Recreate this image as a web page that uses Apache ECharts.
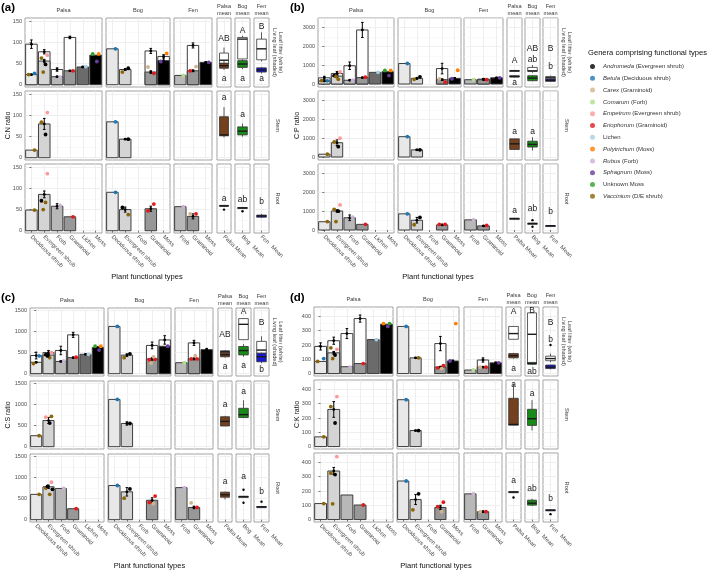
<!DOCTYPE html>
<html>
<head>
<meta charset="utf-8">
<script src="https://cdn.jsdelivr.net/npm/echarts@6/dist/echarts.min.js"></script>
<style>
html, body { margin: 0; padding: 0; background: #fff; }
#chart { width: 709px; height: 574px; }
</style>
</head>
<body>
<div id="chart"></div>
<script>
var FONT = '"Liberation Sans", Arial, sans-serif';

var genera = ['Andromeda', 'Betula', 'Carex', 'Comarum', 'Empetrum', 'Eriophorum', 'Lichen', 'Polytrichum', 'Rubus', 'Sphagnum', 'Unknown Moss', 'Vaccinium'];
var generaGroup = ['Evergreen shrub', 'Deciduous shrub', 'Graminoid', 'Forb', 'Evergreen shrub', 'Graminoid', '', 'Moss', 'Forb', 'Moss', '', 'D/E shrub'];
var generaColors = ['#000000', '#1f78b4', '#d2b48c', '#b2df8a', '#fb9a99', '#e31a1c', '#a6cee3', '#ff7f00', '#cab2d6', '#6a3d9a', '#33a02c', '#8b6508'];

var sites = ['Palsa', 'Bog', 'Fen'];
var palsaTypes = ['Deciduous shrub', 'Evergreen shrub', 'Forb', 'Graminoid', 'Lichen', 'Moss'];
var bogTypes = ['Deciduous shrub', 'Evergreen shrub', 'Forb', 'Graminoid', 'Moss'];
var fenTypes = ['Forb', 'Graminoid', 'Moss'];
var meanLabels = ['Palsa Mean', 'Bog   Mean', 'Fen   Mean'];
var meanStrips = ['Palsa\nmean', 'Bog\nmean', 'Fen\nmean'];
var rowStrips = ['Leaf litter (white)\nLiving leaf (shaded)', 'Stem', 'Root'];

// ---- C:N ratio (a) ---- values are [mean, se]
var cnLitter = {Palsa: [[96, 10], [78, 5], [36, 4], [112, 3], null, null], Bog: [null, null, null, [80, 6], [67, 4]], Fen: [null, [93, 6], null]};
var cnLeaf = {Palsa: [[24, 1], [56, 4], [19, 1], [33, 1], [42, 1], [70, 0]], Bog: [[85, 0], [36, 2], null, [30, 3], [57, 9]], Fen: [[22, 0], [33, 2], [53, 1]]};
var cnStem = {Palsa: [[18, 0], [80, 13], null, null, null, null], Bog: [[85, 0], [44, 1], null, null, null], Fen: [null, null, null]};
var cnRoot = {Palsa: [[49, 0], [86, 8], [58, 6], [33, 0], null, null], Bog: [[91, 0], [50, 6], null, [52, 6], null], Fen: [[57, 0], [34, 6], null]};
// points: [type index, value, genus index]
var cnLeafPts = {Palsa: [[0, 27, 1], [0, 24, 11], [1, 70, 4], [1, 63, 11], [1, 48, 0], [1, 30, 11], [2, 18, 8], [3, 33, 5], [4, 43, 6], [5, 73, 7], [5, 73, 10], [5, 55, 9]],
  Bog: [[0, 85, 1], [1, 39, 0], [1, 30, 11], [3, 27, 5], [3, 42, 2], [4, 74, 7], [4, 55, 9]],
  Fen: [[0, 22, 3], [1, 43, 2], [1, 33, 5], [2, 53, 9]]};
var cnStemPts = {Palsa: [[0, 18, 11], [1, 107, 4], [1, 84, 11], [1, 55, 0]], Bog: [[0, 85, 1], [1, 44, 0]], Fen: []};
var cnRootPts = {Palsa: [[0, 49, 11], [1, 135, 4], [1, 71, 0], [1, 67, 11], [1, 50, 11], [2, 60, 8], [3, 33, 5]],
  Bog: [[0, 91, 1], [1, 38, 11], [1, 55, 0], [3, 63, 5], [3, 47, 5]], Fen: [[0, 57, 8], [1, 40, 5], [1, 40, 2]]};
// boxes: [min, q1, median, q3, max, outliers]
var cnLeafBox = {Palsa: [[40, 50, 58, 75, 88], [35, 39, 45, 51, 56]], Bog: [[61, 61, 108, 112, 116], [37, 41, 49, 57, 60]], Fen: [[55, 59, 85, 108, 124], [27, 30, 35, 40, 42]]};
var cnStemBox = {Palsa: [48, 52, 54, 97, 120], Bog: [50, 54, 63, 73, 81], Fen: null};
var cnRootBox = {Palsa: [58, 59, 59, 60, 61, [50]], Bog: [52, 53, 54, 55, 56, [46]], Fen: [30, 32, 35, 37, 40]};
var cnLetters = {leaf: {Palsa: [['AB', 110], ['a', 15]], Bog: [['A', 128], ['a', 15]], Fen: [['B', 138], ['a', 15]]},
  stem: {Palsa: [['a', 143]], Bog: [['a', 103]], Fen: []}, root: {Palsa: [['a', 77]], Bog: [['ab', 73]], Fen: [['b', 68]]}};
var cnTicks = [0, 50, 100, 150];
var cnMinor = [25, 75, 125];

// ---- C:P ratio (b) ----
var cpLitter = {Palsa: [[330, 80], [560, 100], [970, 200], [2870, 400], null, null], Bog: [null, null, null, [820, 280], null], Fen: [null, [260, 30], null]};
var cpLeaf = {Palsa: [[160, 30], [420, 80], [200, 10], [340, 20], [620, 0], [650, 0]], Bog: [[1090, 0], [300, 50], null, [230, 40], [300, 30]], Fen: [[230, 0], [230, 20], [330, 30]]};
var cpStem = {Palsa: [[150, 0], [760, 150], null, null, null, null], Bog: [[1080, 0], [380, 30], null, null, null], Fen: [null, null, null]};
var cpRoot = {Palsa: [[440, 0], [1010, 60], [650, 150], [300, 0], null, null], Bog: [[860, 0], [520, 150], null, [270, 30], null], Fen: [[540, 0], [220, 20], null]};
var cpLeafPts = {Palsa: [[0, 170, 1], [0, 180, 11], [1, 650, 4], [1, 450, 0], [1, 250, 11], [1, 400, 11], [2, 200, 8], [3, 360, 5], [4, 620, 6], [5, 720, 7], [5, 720, 10], [5, 450, 9]],
  Bog: [[0, 1090, 1], [1, 380, 0], [1, 250, 11], [3, 100, 5], [3, 270, 2], [4, 730, 7], [4, 280, 9]],
  Fen: [[0, 230, 3], [1, 230, 5], [2, 330, 9]]};
var cpStemPts = {Palsa: [[0, 150, 11], [1, 1000, 4], [1, 800, 11], [1, 550, 0]], Bog: [[0, 1080, 1], [1, 380, 0]], Fen: []};
var cpRootPts = {Palsa: [[0, 450, 11], [1, 1330, 4], [1, 1100, 11], [1, 1000, 0], [1, 450, 11], [2, 680, 8], [3, 300, 5]],
  Bog: [[0, 860, 1], [1, 670, 0], [1, 280, 11], [3, 300, 5], [3, 300, 5]], Fen: [[0, 540, 8], [1, 240, 5]]};
var cpLeafBox = {Palsa: [[660, 680, 700, 720, 740], [350, 370, 400, 440, 470]], Bog: [[600, 670, 700, 880, 1000], [150, 175, 315, 440, 480]], Fen: [[230, 260, 330, 400, 450], [120, 140, 200, 260, 280]]};
var cpStemBox = {Palsa: [400, 400, 700, 965, 965], Bog: [350, 530, 670, 840, 1050], Fen: null};
var cpRootBox = {Palsa: [580, 600, 610, 620, 640], Bog: [340, 345, 350, 355, 360, [525, 175]], Fen: [215, 222, 230, 238, 245]};
var cpLetters = {leaf: {Palsa: [['A', 1250], ['a', 90]], Bog: [['AB', 1880], ['ab', 1280]], Fen: [['B', 1880], ['b', 930]]},
  stem: {Palsa: [['a', 1330]], Bog: [['a', 1370]], Fen: []}, root: {Palsa: [['a', 1050]], Bog: [['ab', 1140]], Fen: [['b', 960]]}};
var cpTicks = [0, 1000, 2000, 3000];
var cpMinor = [500, 1500, 2500, 3500];

// ---- C:S ratio (c) ----
var csLitter = {Palsa: [[430, 80], [500, 50], [550, 100], [920, 60], null, null], Bog: [null, null, null, [670, 80], [800, 100]], Fen: [null, [730, 60], null]};
var csLeaf = {Palsa: [[270, 10], [440, 40], [290, 10], [380, 10], [460, 10], [620, 10]], Bog: [[1120, 0], [440, 30], null, [350, 30], [650, 0]], Fen: [[260, 0], [350, 20], [570, 30]]};
var csStem = {Palsa: [[260, 0], [620, 70], null, null, null, null], Bog: [[1120, 0], [550, 40], null, null, null], Fen: [null, null, null]};
var csRoot = {Palsa: [[600, 0], [780, 40], [740, 0], [260, 0], null, null], Bog: [[810, 0], [660, 100], null, [460, 60], null], Fen: [[760, 0], [290, 30], null]};
var csLeafPts = {Palsa: [[0, 420, 1], [0, 240, 11], [1, 500, 4], [1, 450, 0], [1, 380, 11], [1, 420, 0], [2, 300, 8], [3, 390, 5], [4, 460, 6], [5, 650, 7], [5, 650, 10], [5, 560, 9]],
  Bog: [[0, 1120, 1], [1, 470, 0], [1, 380, 11], [3, 340, 5], [3, 330, 5], [3, 400, 2], [3, 250, 2], [4, 650, 9]],
  Fen: [[0, 260, 3], [1, 350, 5], [1, 350, 5], [1, 430, 2]]};
var csStemPts = {Palsa: [[0, 260, 11], [1, 720, 11], [1, 700, 4], [1, 560, 0]], Bog: [[0, 1120, 1], [1, 550, 0]], Fen: []};
var csRootPts = {Palsa: [[0, 600, 11], [1, 890, 4], [1, 750, 11], [1, 600, 11], [1, 790, 0], [1, 720, 0], [2, 740, 8], [3, 260, 5]],
  Bog: [[0, 810, 1], [1, 730, 0], [1, 510, 11], [3, 560, 5], [3, 410, 5], [3, 380, 2]], Fen: [[0, 760, 8], [1, 290, 5], [1, 400, 2]]};
var csLeafBox = {Palsa: [[470, 490, 520, 545, 560], [380, 400, 450, 500, 520]], Bog: [[806, 806, 1170, 1306, 1306], [400, 444, 548, 645, 700]], Fen: [[403, 484, 560, 766, 887], [250, 282, 403, 484, 500]]};
var csStemBox = {Palsa: [490, 490, 600, 710, 730], Bog: [690, 690, 760, 910, 1100], Fen: null};
var csRootBox = {Palsa: [480, 532, 590, 653, 660], Bog: [540, 545, 548, 552, 556, [710, 403]], Fen: [300, 303, 306, 309, 312, [427]]};
var csLetters = {leaf: {Palsa: [['AB', 920], ['a', 160]], Bog: [['A', 1480], ['a', 200]], Fen: [['B', 1210], ['b', 97]]},
  stem: {Palsa: [['a', 990]], Bog: [['a', 1315]], Fen: []}, root: {Palsa: [['a', 910]], Bog: [['a', 1030]], Fen: [['b', 670]]}};
var csTicks = [0, 500, 1000, 1500];
var csMinor = [250, 750, 1250];

// ---- C:K ratio (d) ----
var ckLitter = {Palsa: [[190, 25], [230, 25], [280, 35], [385, 25], null, null], Bog: [null, null, null, [210, 50], null], Fen: [null, [95, 15], null]};
var ckLeaf = {Palsa: [[85, 0], [145, 10], [48, 0], [70, 0], [238, 0], [345, 0]], Bog: [[330, 0], [110, 3], null, [45, 5], [88, 5]], Fen: [[25, 0], [45, 3], [75, 5]]};
var ckStem = {Palsa: [[68, 0], [260, 55], null, null, null, null], Bog: [[328, 0], [112, 3], null, null, null], Fen: [null, null, null]};
var ckRoot = {Palsa: [[112, 0], [340, 25], [172, 0], [102, 0], null, null], Bog: [[270, 0], [140, 35], null, [85, 15], null], Fen: [[180, 0], [55, 5], null]};
var ckLeafPts = {Palsa: [[0, 105, 1], [0, 85, 11], [1, 170, 4], [1, 180, 11], [1, 130, 0], [1, 105, 11], [2, 45, 8], [3, 70, 5], [4, 238, 6], [5, 350, 10], [5, 350, 7], [5, 330, 9]],
  Bog: [[0, 330, 1], [1, 110, 11], [3, 55, 5], [3, 40, 5], [3, 35, 2], [4, 350, 7], [4, 88, 9]],
  Fen: [[0, 25, 3], [1, 45, 5], [1, 45, 2], [2, 75, 9]]};
var ckStemPts = {Palsa: [[0, 68, 11], [1, 350, 4], [1, 280, 11], [1, 165, 0]], Bog: [[0, 328, 1], [1, 112, 0]], Fen: []};
var ckRootPts = {Palsa: [[0, 112, 11], [1, 440, 4], [1, 325, 11], [1, 315, 0], [1, 110, 11], [3, 102, 5]],
  Bog: [[0, 270, 1], [1, 180, 0], [1, 68, 11], [3, 122, 5], [3, 90, 5], [3, 55, 2]], Fen: [[0, 180, 8], [1, 55, 5], [1, 55, 2]]};
var ckLeafBox = {Palsa: [[240, 240, 280, 330, 330], [105, 110, 125, 140, 145]], Bog: [[70, 70, 275, 425, 425], [64, 66, 70, 78, 80]], Fen: [[80, 90, 105, 122, 140, [200]], [30, 35, 45, 60, 62]]};
var ckStemBox = {Palsa: [150, 150, 155, 338, 440], Bog: [113, 148, 195, 261, 325], Fen: null};
var ckRootBox = {Palsa: [188, 190, 193, 195, 198, [155]], Bog: [95, 101, 115, 136, 145], Fen: [62, 64, 66, 68, 70, [38]]};
var ckLetters = {leaf: {Palsa: [['A', 430], ['a', 35]], Bog: [['B', 440], ['ab', 12]], Fen: [['B', 358], ['b', 240]]},
  stem: {Palsa: [['a', 430]], Bog: [['a', 372]], Fen: []}, root: {Palsa: [['a', 273]], Bog: [['ab', 214]], Fen: [['b', 143]]}};
var ckTicks = [0, 100, 200, 300, 400];
var ckMinor = [50, 150, 250, 350, 450];

// styles
var typeFill = {'Deciduous shrub': '#e8e8e8', 'Evergreen shrub': '#d4d4d4', 'Forb': '#b8b8b8', 'Graminoid': '#989898', 'Lichen': '#6b6b6b', 'Moss': '#000000'};
var meanFill = {Palsa: '#74401e', Bog: '#178a17', Fen: '#1818d0'};
var jitter = [0.24, -0.22, 0.1, -0.08, 0.32, -0.3];
var siteTypes = {Palsa: palsaTypes, Bog: bogTypes, Fen: fenTypes};

var panels = [
  {tag: '(a)', yTitle: 'C:N ratio', litter: cnLitter, rowsData: [cnLeaf, cnStem, cnRoot], pts: [cnLeafPts, cnStemPts, cnRootPts], boxes: [cnLeafBox, cnStemBox, cnRootBox], letters: cnLetters, range: [-5.4, 158], ticks: cnTicks, minor: cnMinor,
    cols: [[25, 102], [106, 170], [174, 212], [217, 231], [235, 250], [254, 269]], rows: [[18, 87], [91, 160], [164, 233]], x0: 0, y0: 0},
  {tag: '(b)', yTitle: 'C:P ratio', litter: cpLitter, rowsData: [cpLeaf, cpStem, cpRoot], pts: [cpLeafPts, cpStemPts, cpRootPts], boxes: [cpLeafBox, cpStemBox, cpRootBox], letters: cpLetters, range: [-158, 3505], ticks: cpTicks, minor: cpMinor,
    cols: [[318, 394], [398, 461], [464, 503], [507, 522], [525, 540], [543, 558]], rows: [[18, 87], [91, 160], [164, 233]], x0: 289, y0: 0},
  {tag: '(c)', yTitle: 'C:S ratio', litter: csLitter, rowsData: [csLeaf, csStem, csRoot], pts: [csLeafPts, csStemPts, csRootPts], boxes: [csLeafBox, csStemBox, csRootBox], letters: csLetters, range: [-55, 1557], ticks: csTicks, minor: csMinor,
    cols: [[30, 104], [108, 171], [175, 213], [218, 232], [236, 251], [254, 269]], rows: [[308, 376], [381, 449], [454, 522]], x0: 0, y0: 290},
  {tag: '(d)', yTitle: 'C:K ratio', litter: ckLitter, rowsData: [ckLeaf, ckStem, ckRoot], pts: [ckLeafPts, ckStemPts, ckRootPts], boxes: [ckLeafBox, ckStemBox, ckRootBox], letters: ckLetters, range: [-17, 466], ticks: ckTicks, minor: ckMinor,
    cols: [[314, 393], [397, 459], [464, 502], [506, 521], [525, 539], [543, 558]], rows: [[307, 376], [380, 449], [453, 522]], x0: 289, y0: 290}
];

function drawBar(it, api) {
  var tl = api.coord([it.x - 0.45, it.v]);
  var br = api.coord([it.x + 0.45, 0]);
  var ch = [{type: 'rect', shape: {x: tl[0], y: tl[1], width: br[0] - tl[0], height: br[1] - tl[1]},
    style: {fill: it.fill, stroke: '#3d3d3d', lineWidth: 1}}];
  if (it.se > 0) {
    var lo = api.coord([it.x, it.v - it.se]), hi = api.coord([it.x, it.v + it.se]);
    var cw = 1.3;
    ch.push({type: 'line', shape: {x1: lo[0], y1: lo[1], x2: hi[0], y2: hi[1]}, style: {stroke: '#000', lineWidth: 1}});
    ch.push({type: 'line', shape: {x1: lo[0] - cw, y1: lo[1], x2: lo[0] + cw, y2: lo[1]}, style: {stroke: '#000', lineWidth: 1}});
    ch.push({type: 'line', shape: {x1: hi[0] - cw, y1: hi[1], x2: hi[0] + cw, y2: hi[1]}, style: {stroke: '#000', lineWidth: 1}});
    var m = api.coord([it.x, it.v]);
    ch.push({type: 'circle', shape: {cx: m[0], cy: m[1], r: 1.4}, style: {fill: '#000'}});
  }
  return {type: 'group', children: ch};
}

function drawBox(it, api) {
  var s = it.stats;
  var tl = api.coord([-0.32, s[3]]), br = api.coord([0.32, s[1]]);
  var wt = api.coord([0, s[4]]), wb = api.coord([0, s[0]]);
  var m1 = api.coord([-0.32, s[2]]), m2 = api.coord([0.32, s[2]]);
  var ch = [
    {type: 'line', shape: {x1: wt[0], y1: wt[1], x2: wt[0], y2: tl[1]}, style: {stroke: '#333', lineWidth: 0.8}},
    {type: 'line', shape: {x1: wb[0], y1: br[1], x2: wb[0], y2: wb[1]}, style: {stroke: '#333', lineWidth: 0.8}},
    {type: 'rect', shape: {x: tl[0], y: tl[1], width: br[0] - tl[0], height: Math.max(br[1] - tl[1], 1)}, style: {fill: it.fill, stroke: '#333', lineWidth: 0.8}},
    {type: 'line', shape: {x1: m1[0], y1: m1[1], x2: m2[0], y2: m2[1]}, style: {stroke: '#1a1a1a', lineWidth: 1.4}}
  ];
  (s[5] || []).forEach(function (o) {
    var c = api.coord([0, o]);
    ch.push({type: 'circle', shape: {cx: c[0], cy: c[1], r: 1.2}, style: {fill: '#000'}});
  });
  return {type: 'group', children: ch};
}

function makeRender(items) {
  return function (params, api) {
    var it = items[params.dataIndex];
    if (it.kind === 'bar') return drawBar(it, api);
    if (it.kind === 'box') return drawBox(it, api);
    var c = api.coord([it.x, it.v]);
    if (it.kind === 'pt') return {type: 'circle', shape: {cx: c[0], cy: c[1], r: 1.9}, style: {fill: it.color}};
    return {type: 'text', x: c[0], y: c[1], style: {text: it.text, font: '8.5px ' + FONT, fill: '#222', align: 'center', verticalAlign: 'middle'}};
  };
}

var grids = [], xAxes = [], yAxes = [], series = [], texts = [];

function addCell(p, r, c) {
  var gi = grids.length;
  var col = p.cols[c], row = p.rows[r];
  var isMean = c >= 3;
  var names = isMean ? [meanLabels[c - 3]] : siteTypes[sites[c]];
  var idx = names.map(function (_, i) { return i; });
  var bottom = r === 2;
  grids.push({left: col[0], top: row[0], width: col[1] - col[0], height: row[1] - row[0], show: true,
    backgroundColor: '#fff', borderColor: '#a3a3a3', borderWidth: 1, outerBoundsMode: 'none', containLabel: false});
  xAxes.push({gridIndex: gi, type: 'value', min: -0.5, max: names.length - 0.5, axisLine: {show: false},
    axisTick: {show: bottom, length: 2, customValues: idx, lineStyle: {color: '#555', width: 0.8}},
    axisLabel: {show: bottom, customValues: idx, rotate: -45, margin: 3, fontSize: 5.8, color: '#4d4d4d', fontFamily: FONT,
      formatter: function (v) { return names[Math.round(v)]; }},
    splitLine: {show: true, lineStyle: {color: '#ebebeb', width: 0.8}}});
  yAxes.push({gridIndex: gi, type: 'value', min: p.range[0], max: p.range[1], axisLine: {show: false},
    axisTick: {show: c === 0, length: 2, customValues: p.ticks, lineStyle: {color: '#555', width: 0.8}},
    axisLabel: {show: c === 0, customValues: p.ticks, margin: 3, fontSize: 5.5, color: '#4d4d4d', fontFamily: FONT,
      formatter: function (v) { return String(v); }},
    splitLine: {show: true, lineStyle: {color: '#ebebeb', width: 0.8}}});
  yAxes.push({gridIndex: gi, type: 'value', min: p.range[0], max: p.range[1], axisLine: {show: false},
    axisTick: {show: false, customValues: p.minor}, axisLabel: {show: false, customValues: p.minor},
    splitLine: {show: true, lineStyle: {color: '#f4f4f4', width: 0.5}}});

  var items = [];
  if (!isMean) {
    var site = sites[c];
    var types = siteTypes[site];
    if (r === 0) {
      p.litter[site].forEach(function (d, i) { if (d) items.push({kind: 'bar', x: i, v: d[0], se: d[1], fill: '#ffffff'}); });
    }
    p.rowsData[r][site].forEach(function (d, i) { if (d) items.push({kind: 'bar', x: i, v: d[0], se: d[1], fill: typeFill[types[i]]}); });
    var counts = {};
    p.pts[r][site].forEach(function (d) {
      var k = counts[d[0]] || 0;
      counts[d[0]] = k + 1;
      items.push({kind: 'pt', x: d[0] + jitter[k % jitter.length], v: d[1], color: generaColors[d[2]]});
    });
  } else {
    var ms = sites[c - 3];
    var box = p.boxes[r][ms];
    if (box && r === 0) {
      items.push({kind: 'box', x: 0, v: box[0][2], stats: box[0], fill: '#ffffff'});
      items.push({kind: 'box', x: 0, v: box[1][2], stats: box[1], fill: meanFill[ms]});
    } else if (box) {
      items.push({kind: 'box', x: 0, v: box[2], stats: box, fill: meanFill[ms]});
    }
    p.letters[['leaf', 'stem', 'root'][r]][ms].forEach(function (l) { items.push({kind: 'txt', x: 0, v: l[1], text: l[0]}); });
  }
  series.push({type: 'custom', xAxisIndex: gi, yAxisIndex: 2 * gi, silent: true, clip: false,
    data: items.map(function (it) { return [it.x, it.v]; }), renderItem: makeRender(items)});
}

function txt(x, y, s, size, opts) {
  opts = opts || {};
  texts.push({type: 'text', x: x, y: y, rotation: opts.rot || 0, silent: true,
    style: {text: s, font: (opts.bold ? 'bold ' : '') + size + 'px ' + FONT, fill: opts.color || '#333',
      align: opts.align || 'center', verticalAlign: opts.va || 'middle', textAlign: opts.align || 'center', textVerticalAlign: opts.va || 'middle', lineHeight: size * 1.2}});
}

panels.forEach(function (p) {
  for (var r = 0; r < 3; r++) {
    for (var c = 0; c < 6; c++) addCell(p, r, c);
  }
  var top = p.rows[0][0], bot = p.rows[2][1];
  var left = p.cols[0][0], right = p.cols[5][1];
  txt(p.x0 + 1, p.y0 + 1, p.tag, 11.5, {bold: true, align: 'left', va: 'top', color: '#000'});
  for (var c = 0; c < 6; c++) {
    var cx = (p.cols[c][0] + p.cols[c][1]) / 2;
    txt(cx, top - 8, c < 3 ? sites[c] : meanStrips[c - 3], 5.6, {color: '#3a3a3a'});
  }
  for (var r = 0; r < 3; r++) {
    txt(right + 8.5, (p.rows[r][0] + p.rows[r][1]) / 2, rowStrips[r], 5.6, {rot: -Math.PI / 2, color: '#3a3a3a'});
  }
  txt(p.x0 + 8, (top + bot) / 2, p.yTitle, 7, {rot: Math.PI / 2, color: '#111'});
  txt((left + right) / 2, bot + 44, 'Plant functional types', 7.5, {color: '#111'});
});

txt(588, 53, 'Genera comprising functional types', 7.6, {align: 'left', color: '#111'});

genera.forEach(function (g, i) {
  series.push({type: 'scatter', name: g, xAxisIndex: 0, yAxisIndex: 0, data: [], itemStyle: {color: generaColors[i]}});
});

var chart = echarts.init(document.getElementById('chart'), null, {renderer: 'canvas'});
chart.setOption({
  animation: false,
  backgroundColor: '#ffffff',
  textStyle: {fontFamily: FONT},
  grid: grids,
  xAxis: xAxes,
  yAxis: yAxes,
  legend: {
    data: genera, left: 590, top: 62.5, orient: 'vertical', icon: 'circle', itemWidth: 5, itemHeight: 5,
    itemGap: 3.8, selectedMode: false, padding: 0,
    textStyle: {fontSize: 6, lineHeight: 8, color: '#333', fontFamily: FONT, padding: [0, 0, 0, 3],
      rich: {i: {fontStyle: 'italic', fontSize: 6, lineHeight: 8, color: '#333', fontFamily: FONT}}},
    formatter: function (name) {
      var i = genera.indexOf(name);
      var grp = generaGroup[i];
      if (!grp) return name;
      return '{i|' + name + '} (' + grp + ')';
    }
  },
  graphic: {elements: texts},
  series: series
});
</script>
</body>
</html>
